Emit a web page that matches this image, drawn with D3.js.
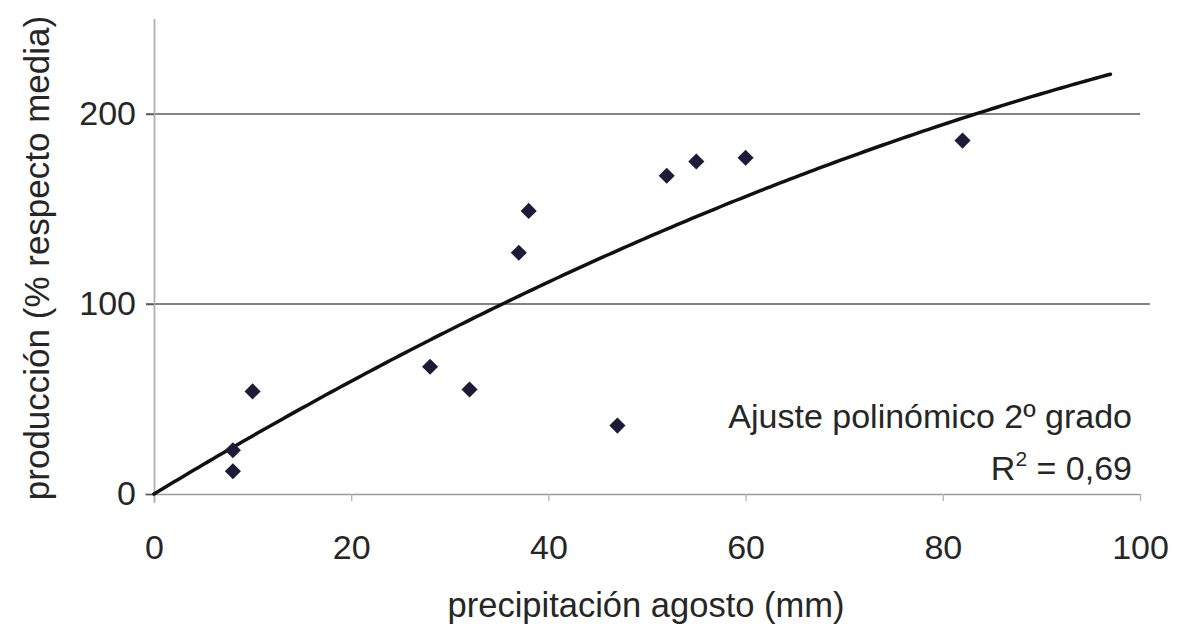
<!DOCTYPE html>
<html>
<head>
<meta charset="utf-8">
<script src="https://cdn.jsdelivr.net/npm/d3@7"></script>
<style>
  html, body { margin: 0; padding: 0; background: #fff; }
  svg { display: block; }
  text { font-family: "Liberation Sans", Arial, sans-serif; fill: #262626; }
</style>
</head>
<body>
<svg id="chart" width="1177" height="628"></svg>
<script>
// ---- data ----
const precipitation = [8, 8, 10, 28, 32, 37, 38, 47, 52, 55, 60, 82];          // mm (x)
const production    = [23, 12, 54, 67, 55, 127, 149, 36, 167.5, 175, 177, 186]; // % respecto media (y)
const xTicks = [0, 20, 40, 60, 80, 100];
const yTicks = [0, 100, 200];
const trendRange = [0, 97];   // extent of the drawn trend curve
const xTitle = "precipitación agosto (mm)";
const yTitle = "producción (% respecto media)";
const fitLabel = "Ajuste polinómico 2º grado";
const r2Label = "0,69";

// ---- layout ----
const svg = d3.select("#chart");
const x = d3.scaleLinear().domain([0, 100]).range([154, 1140]);
const y = d3.scaleLinear().domain([0, 250]).range([494, 19]);
const FONT = "Liberation Sans, Arial, sans-serif";

// 2nd-degree polynomial least-squares fit through the origin: y = a x + b x^2
const pts = precipitation.map((v, i) => [v, production[i]]);
let s2 = 0, s3 = 0, s4 = 0, sxy = 0, sx2y = 0;
pts.forEach(([px, py]) => {
  s2 += px * px; s3 += px ** 3; s4 += px ** 4; sxy += px * py; sx2y += px * px * py;
});
const det = s2 * s4 - s3 * s3;
const a = (sxy * s4 - s3 * sx2y) / det;
const b = (s2 * sx2y - s3 * sxy) / det;
const fit = v => a * v + b * v * v;

// ---- gridlines ----
const gridColor = "#5a5a5a";
svg.append("g").selectAll("line")
  .data(yTicks.filter(d => d > 0))
  .join("line")
  .attr("x1", x(0) - 8)
  .attr("x2", d => d === 100 ? x(101) : x(100))
  .attr("y1", d => y(d)).attr("y2", d => y(d))
  .attr("stroke", gridColor).attr("stroke-width", 1.5);

// ---- axes ----
const xAxis = svg.append("g")
  .attr("transform", `translate(0,${y(0)})`)
  .call(d3.axisBottom(x).tickValues(xTicks).tickSize(7).tickPadding(34).tickSizeOuter(0));
xAxis.select(".domain").attr("stroke", "#9a9a9a").attr("stroke-width", 1.6)
  .attr("d", `M${x(0) - 9},0.5H${x(100)}`);
xAxis.selectAll(".tick line").attr("stroke", "#b5b5b5").attr("stroke-width", 1.4);
xAxis.selectAll(".tick text").attr("font-size", 34).attr("fill", "#262626").attr("font-family", FONT);

const yAxis = svg.append("g")
  .attr("transform", `translate(${x(0)},0)`)
  .call(d3.axisLeft(y).tickValues(yTicks).tickSize(8).tickPadding(10).tickSizeOuter(0));
yAxis.select(".domain").attr("stroke", "#b0b0b0").attr("stroke-width", 1.8)
  .attr("d", `M0.5,${y(250)}V${y(0) + 9}`);
yAxis.selectAll(".tick line").attr("stroke", gridColor).attr("stroke-width", 1.5);
yAxis.selectAll(".tick text").attr("font-size", 34).attr("fill", "#262626").attr("font-family", FONT);

// ---- trend curve ----
const curveData = d3.range(trendRange[0], trendRange[1] + 0.001, 0.5).map(v => [v, fit(v)]);
svg.append("path")
  .datum(curveData)
  .attr("fill", "none")
  .attr("stroke", "#111")
  .attr("stroke-width", 3.5)
  .attr("stroke-linecap", "round")
  .attr("d", d3.line().x(d => x(d[0])).y(d => y(d[1])));

// ---- points ----
svg.append("g").selectAll("path")
  .data(pts)
  .join("path")
  .attr("d", d3.symbol(d3.symbolSquare, 130)())
  .attr("transform", d => `translate(${x(d[0])},${y(d[1])}) rotate(45)`)
  .attr("fill", "#1c1c38");

// ---- annotation ----
svg.append("text")
  .attr("x", 1132).attr("y", 428)
  .attr("text-anchor", "end").attr("font-size", 34)
  .text(fitLabel);
const r2 = svg.append("text")
  .attr("x", 1132).attr("y", 480)
  .attr("text-anchor", "end").attr("font-size", 34);
r2.append("tspan").text("R");
r2.append("tspan").attr("font-size", 21).attr("dy", -14).text("2");
r2.append("tspan").attr("dy", 14).text(" = " + r2Label);

// ---- axis titles ----
svg.append("text")
  .attr("x", 646).attr("y", 617)
  .attr("text-anchor", "middle").attr("font-size", 34.5)
  .text(xTitle);
svg.append("text")
  .attr("transform", "translate(49,258) rotate(-90)")
  .attr("text-anchor", "middle").attr("font-size", 35)
  .text(yTitle);
</script>
</body>
</html>
